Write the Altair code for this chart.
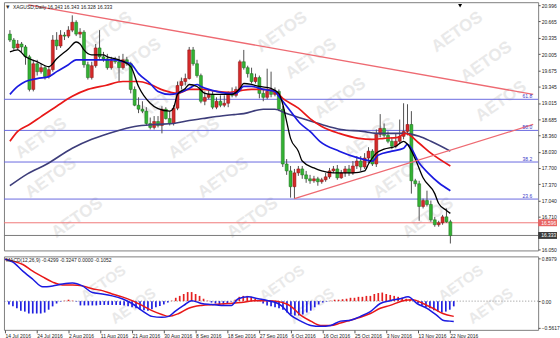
import altair as alt
import pandas as pd

# ---------------- data ----------------
date_labels = ["14 Jul 2016", "24 Jul 2016", "2 Aug 2016", "11 Aug 2016", "21 Aug 2016",
               "30 Aug 2016", "8 Sep 2016", "18 Sep 2016", "27 Sep 2016", "6 Oct 2016",
               "16 Oct 2016", "25 Oct 2016", "3 Nov 2016", "13 Nov 2016", "22 Nov 2016"]
date_label_bars = [0, 8, 16, 24, 32, 40, 48, 56, 64, 72, 80, 88, 96, 104, 112]

opens = [20.41,20.29,20.13,20.21,20.15,19.95,19.29,19.81,19.65,19.73,
         19.55,19.69,20.29,20.17,20.39,20.37,20.49,20.65,20.41,20.45,
         19.79,19.53,19.77,20.13,19.95,19.91,19.73,19.87,19.85,19.73,
         19.89,19.81,19.29,18.97,18.89,18.85,18.60,18.52,18.64,18.56,
         18.89,18.70,18.60,18.91,19.37,19.45,19.51,20.09,19.81,19.57,
         19.05,19.13,19.19,18.93,19.05,18.97,19.01,19.21,19.17,19.29,
         19.85,19.73,19.61,19.45,19.53,19.21,19.13,19.25,19.19,19.25,
         18.89,17.78,17.64,17.32,17.60,17.68,17.56,17.48,17.44,17.48,
         17.42,17.46,17.52,17.64,17.68,17.50,17.60,17.68,17.60,17.74,
         17.84,17.72,17.90,18.04,17.78,18.38,18.50,18.36,18.24,18.14,
         18.24,18.34,18.44,18.58,17.44,17.38,16.92,17.04,16.96,16.65,
         16.55,16.59,16.71,16.61]
highs = [20.49,20.33,20.29,20.25,20.19,19.99,19.89,19.89,19.81,19.77,
         19.75,20.39,20.45,20.49,20.45,20.57,20.79,20.69,20.53,20.49,
         19.85,19.85,20.21,20.49,20.05,20.01,19.95,19.95,19.97,20.01,
         19.95,19.85,19.35,19.13,19.05,18.93,18.72,18.75,18.75,18.95,
         18.93,18.85,18.97,19.45,19.53,19.61,20.15,20.15,19.89,19.61,
         19.25,19.29,19.25,19.13,19.17,19.17,19.25,19.33,19.35,19.89,
         20.09,19.77,19.73,19.61,19.57,19.29,19.71,19.65,19.33,19.29,
         18.95,17.88,17.74,17.68,17.74,17.74,17.64,17.56,17.54,17.52,
         17.50,17.60,17.70,17.74,17.76,17.66,17.74,17.76,17.84,17.94,
         17.94,18.00,18.12,18.08,18.48,18.79,18.60,18.44,18.32,18.40,
         18.68,19.01,18.99,18.85,17.48,17.44,17.08,17.24,17.04,16.71,
         16.63,16.75,16.88,16.65]
lows = [20.25,20.09,20.09,20.05,19.79,19.25,19.25,19.57,19.61,19.49,
        19.51,19.65,20.09,20.13,20.29,20.33,20.45,20.37,20.33,19.73,
        19.49,19.49,19.73,19.91,19.85,19.69,19.69,19.81,19.45,19.69,
        19.77,19.21,18.95,18.81,18.81,18.56,18.48,18.48,18.52,18.40,
        18.68,18.56,18.56,18.87,19.29,19.37,19.49,19.77,19.53,19.01,
        18.97,19.09,18.89,18.89,18.93,18.93,18.93,19.13,19.13,19.25,
        19.69,19.53,19.41,19.41,19.11,19.05,19.09,19.13,19.15,18.85,
        17.72,17.56,17.10,17.08,17.54,17.48,17.40,17.38,17.40,17.34,
        17.38,17.42,17.48,17.60,17.46,17.48,17.52,17.54,17.56,17.68,
        17.64,17.68,17.80,17.74,17.72,18.32,18.32,18.20,18.08,18.10,
        18.20,18.28,18.36,17.18,17.32,16.63,16.88,16.92,16.61,16.51,
        16.51,16.55,16.59,16.17]
closes = [20.29,20.13,20.21,20.15,19.95,19.29,19.81,19.65,19.73,19.55,
          19.69,20.29,20.17,20.39,20.37,20.49,20.65,20.41,20.45,19.79,
          19.53,19.77,20.13,19.95,19.91,19.73,19.87,19.85,19.73,19.89,
          19.81,19.29,18.97,18.89,18.85,18.60,18.52,18.64,18.56,18.89,
          18.70,18.60,18.91,19.37,19.45,19.51,20.09,19.81,19.57,19.05,
          19.13,19.19,18.93,19.05,18.97,19.01,19.21,19.17,19.29,19.85,
          19.73,19.61,19.45,19.53,19.21,19.13,19.25,19.19,19.25,18.89,
          17.78,17.64,17.32,17.60,17.68,17.56,17.48,17.44,17.48,17.42,
          17.46,17.52,17.64,17.68,17.50,17.60,17.68,17.60,17.74,17.84,
          17.72,17.90,18.04,17.78,18.38,18.50,18.36,18.24,18.14,18.24,
          18.34,18.44,18.58,17.44,17.38,16.92,17.04,16.96,16.65,16.55,
          16.59,16.71,16.61,16.33]

# moving averages (bar index, price)
ma_black_bars = [0,2,4,7,10,12,15,17,18,19,21,24,25,28,31,33,36,38,41,42,43,45,46,48,50,52,56,57,59,60,
                 62,64,67,69,70,71,72,74,75,78,80,83,85,88,91,92,94,96,99,101,102,104,106,109,110,112,113]
ma_black_vals = [20.05,20.09,19.95,19.85,19.75,19.91,20.11,20.25,20.21,20.09,19.99,19.99,19.95,19.89,19.75,
                 19.35,19.01,18.90,18.85,18.92,19.19,19.31,19.39,19.35,19.21,19.19,19.19,19.19,19.31,19.41,
                 19.39,19.35,19.31,19.21,18.99,18.64,18.30,18.04,17.84,17.70,17.64,17.60,17.60,17.60,17.64,
                 17.78,18.00,18.08,18.14,18.24,18.18,17.88,17.50,17.18,16.98,16.84,16.78]
ma_blue_bars = [0,2,4,7,10,12,15,17,22,27,29,31,33,36,38,41,43,46,48,49,51,53,56,58,60,62,65,68,69,72,
                74.5,77,79.5,84.5,89.5,93,94.5,98,101,102,105,107.5,110,113]
ma_blue_vals = [19.19,19.35,19.45,19.51,19.55,19.65,19.79,19.89,19.89,19.89,19.85,19.81,19.61,19.41,19.25,
                19.19,19.21,19.31,19.39,19.35,19.29,19.25,19.21,19.21,19.35,19.35,19.29,19.25,19.15,18.85,
                18.60,18.44,18.24,18.04,17.90,17.84,17.96,18.04,18.10,18.18,17.80,17.58,17.40,17.24]
ma_red_bars = [0,2,5,8,12,16,20,24.5,29,33,36,39.5,43,46,49.5,53,56,58,59.5,62,65,68,70,74,77,80,
               84.5,89.5,93,96,99.5,101.5,105,108,113]
ma_red_vals = [18.24,18.44,18.58,18.74,18.95,19.15,19.29,19.37,19.45,19.45,19.39,19.27,19.21,19.29,19.29,
               19.25,19.23,19.25,19.27,19.29,19.29,19.25,19.11,18.91,18.70,18.54,18.40,18.30,18.28,18.30,
               18.32,18.40,18.20,18.00,17.74]
ma_navy_bars = [0,4.5,9.5,16,21,27,32,37,42,46,49.5,53,57.5,60,65,68,71,75,80,85,90.5,94,98,101.5,105,108,113]
ma_navy_vals = [17.34,17.58,17.78,18.10,18.28,18.44,18.54,18.58,18.60,18.66,18.70,18.74,18.78,18.80,18.89,
                18.89,18.80,18.70,18.58,18.48,18.44,18.40,18.40,18.40,18.34,18.24,18.04]

# drawn objects
trend_down_bars = [4.75, 134.25]
trend_down_prices = [21.00, 19.19]
trend_up_bars = [73, 134.25]
trend_up_prices = [17.08, 18.58]
fib_prices = [19.09, 18.46, 17.82, 17.07]
fib_texts = ["61.8", "50.0", "38.2", "23.6"]
red_level = 16.59
red_level_text = "16.596"
last_price = 16.333
last_price_text = "16.333"
price_ticks = [20.996, 20.665, 20.335, 20.005, 19.675, 19.345, 19.015, 18.685,
               18.360, 18.030, 17.700, 17.370, 17.040, 16.710, 16.050]
header_text = "XAGUSD,Daily  16.343 16.343 16.328 16.333"

# MACD panel
macd_bars = [0,2,4.5,7,9.5,12,14.5,17,19.5,22,24.5,27,29.5,32,34.5,37,39.5,41.25,42.75,45,
             47,49.5,52,54.5,57,58.75,61.25,63.75,66.25,68.75,69.5,72,74.5,77,79.5,82,84.5,87,89.5,92,
             94.5,97,99.5,101.5,103.75,106.25,108.75,110.25,112,113]
macd_vals = [0.88,0.82,0.63,0.46,0.30,0.32,0.36,0.38,0.32,0.18,0.15,0.11,0.05,-0.05,-0.20,-0.32,-0.34,-0.32,-0.22,-0.09,
             0.01,-0.05,-0.07,-0.09,-0.09,0.05,0.09,0.05,0.01,-0.05,-0.09,-0.30,-0.42,-0.51,-0.53,-0.51,-0.42,-0.40,-0.32,-0.22,
             -0.05,0.01,0.05,0.09,-0.05,-0.15,-0.30,-0.40,-0.42,-0.43]
signal_bars = [0,2,4.5,7,9.5,12,14.5,17,19.5,22,24.5,27,29.5,32,34.5,37,39.5,41.25,43.75,46.25,
               49.5,52.75,56.25,59.5,62.75,66.25,68.75,72,74.5,77,79.5,82,84.5,87,89.5,92,94.5,97,100.25,102.75,
               105.25,107.75,110.25,113]
signal_vals = [0.88,0.84,0.77,0.63,0.51,0.40,0.34,0.34,0.32,0.26,0.22,0.15,0.09,0.01,-0.09,-0.20,-0.28,-0.32,-0.26,-0.15,
               -0.09,-0.07,-0.05,-0.03,0.01,0.01,-0.01,-0.11,-0.30,-0.42,-0.51,-0.51,-0.46,-0.40,-0.34,-0.26,-0.15,-0.09,0.01,0.03,
               -0.05,-0.15,-0.26,-0.32]
hist_vals = [-0.01,-0.07,-0.11,-0.15,-0.20,-0.22,-0.26,-0.26,-0.26,-0.26,
             -0.24,-0.18,-0.11,-0.05,-0.01,0.01,0.03,0.01,-0.01,-0.09,
             -0.09,-0.09,-0.09,-0.09,-0.08,-0.08,-0.08,-0.08,-0.08,-0.08,
             -0.09,-0.11,-0.13,-0.15,-0.17,-0.19,-0.20,-0.17,-0.13,-0.10,
             -0.07,-0.03,0.01,0.07,0.11,0.15,0.19,0.19,0.15,0.11,
             0.05,0.01,-0.03,-0.05,-0.07,-0.07,-0.05,-0.01,0.03,0.09,
             0.11,0.11,0.09,0.05,-0.01,-0.05,-0.09,-0.11,-0.13,-0.15,
             -0.18,-0.24,-0.28,-0.30,-0.30,-0.28,-0.24,-0.20,-0.13,-0.07,
             -0.03,-0.01,0.01,0.03,0.03,0.04,0.05,0.07,0.07,0.09,
             0.09,0.11,0.11,0.15,0.17,0.18,0.15,0.13,0.11,0.09,
             0.07,0.05,0.03,-0.01,-0.05,-0.09,-0.13,-0.15,-0.19,-0.22,
             -0.24,-0.22,-0.18,-0.11]
macd_ticks = [0.8979, 0.0, -0.5617]
macd_header = "MACD(12,26,9) -0.4299 -0.3247 0.0000 -0.1052"

# watermark placement (bar index / price, and bar index / MACD value), kept inside the panels
wm_main_bars = [24.75, 32.25, 39.75, 47.25, 54.75, 62.25, 69.75, 77.25, 84.75, 92.25, 99.75, 107.25,
                114.75, 122.25, 126.0, 8.0, 10.5, 17.25]
wm_main_prices = [20.45, 19.91, 19.11, 18.30, 17.50, 16.69, 20.45, 19.91, 19.11, 18.30, 17.50, 16.69,
                  20.45, 19.85, 19.05, 18.30, 17.50, 16.69]
wm_macd_bars = [24.75, 69.75, 114.75, 32.25, 77.25, 122.25]
wm_macd_vals = [0.38, 0.38, 0.38, -0.10, -0.10, -0.10]
shift_marker_bar = [115.5]
shift_marker_price = [20.985]

# ---------------- styling ----------------
BULL, BULL_EDGE = "#d42a2a", "#8a1010"
BEAR, BEAR_EDGE = "#33b233", "#1d6e1d"
FONT = "Liberation Sans"
FS = 5
WM_COLOR = "#e9e9e9"

XS = alt.Scale(domain=[-0.25, 134.25], nice=False, zero=False)
YS = alt.Scale(domain=[16.03, 21.056], nice=False, zero=False)
MS = alt.Scale(domain=[-0.6034, 0.9396], nice=False, zero=False)

price_axis = alt.Axis(orient="right", values=price_ticks, format=".3f", title=None, grid=False,
                      domain=False, tickSize=2, tickColor="#555", labelPadding=1, labelFontSize=FS,
                      labelColor="#222", labelFont=FONT, labelOverlap=False, labelBaseline="middle")
macd_axis = alt.Axis(orient="right", values=macd_ticks, title=None, grid=False, domain=False,
                     labelExpr="datum.value == 0 ? '0.00' : format(datum.value, '.4f')",
                     tickSize=2, tickColor="#555", labelPadding=1, labelFontSize=FS, labelColor="#222",
                     labelFont=FONT, labelOverlap=False, labelBaseline="middle")
date_expr = "[" + ",".join("'%s'" % d for d in date_labels) + "][round(datum.value / 8)]"
date_axis = alt.Axis(values=date_label_bars, labelExpr=date_expr, title=None, grid=False, domain=False,
                     tickSize=3, tickColor="#555", labelAlign="left", labelPadding=1, labelFontSize=FS,
                     labelColor="#222", labelFont=FONT, labelOverlap=False)

xm = alt.X("bar:Q", scale=XS, axis=None)


def py(field):
    return alt.Y(field, scale=YS, axis=price_axis)


candles = pd.DataFrame({"bar": list(range(len(closes))), "open": opens, "high": highs,
                        "low": lows, "close": closes})

wm_main = alt.Chart(pd.DataFrame({"bar": wm_main_bars, "price": wm_main_prices, "t": ["AETOS"] * len(wm_main_bars)})
                    ).mark_text(angle=325, fontSize=17, fontWeight="bold", font=FONT, color=WM_COLOR
                                ).encode(x=xm, y=py("price:Q"), text="t:N")

fib_df = pd.DataFrame({"price": fib_prices, "t": fib_texts, "bar": [134.0] * len(fib_prices)})
fib_rules = alt.Chart(fib_df).mark_rule(color="#6a6ae0", strokeWidth=1).encode(y=py("price:Q"))
fib_text = alt.Chart(fib_df).mark_text(align="right", baseline="bottom", dy=-0.5, fontSize=FS, font=FONT,
                                       color="#3a3ac8").encode(x=xm, y=py("price:Q"), text="t:N")

red_line = alt.Chart(pd.DataFrame({"price": [red_level]})).mark_rule(color="#f07878", strokeWidth=1).encode(
    y=py("price:Q"))
last_line = alt.Chart(pd.DataFrame({"price": [last_price]})).mark_rule(color="#7a7a7a", strokeWidth=1).encode(
    y=py("price:Q"))

trend_df = pd.DataFrame({
    "bar": trend_down_bars + trend_up_bars,
    "price": trend_down_prices + trend_up_prices,
    "id": ["down", "down", "up", "up"],
})
trend = alt.Chart(trend_df).mark_line(color="#ee6a72", strokeWidth=1.3, clip=True).encode(
    x=xm, y=py("price:Q"), detail="id:N")


def ma_layer(bars, vals, color, width):
    return alt.Chart(pd.DataFrame({"bar": bars, "price": vals})).mark_line(
        color=color, strokeWidth=width, interpolate="monotone").encode(x=xm, y=py("price:Q"))


ma_navy = ma_layer(ma_navy_bars, ma_navy_vals, "#3d3d7a", 1.6)
ma_red = ma_layer(ma_red_bars, ma_red_vals, "#e81818", 1.7)
ma_blue = ma_layer(ma_blue_bars, ma_blue_vals, "#1a1ae0", 1.7)
ma_black = ma_layer(ma_black_bars, ma_black_vals, "#000000", 1.3)

up = alt.datum.close >= alt.datum.open
wick = alt.Chart(candles).mark_rule(color="#505050", strokeWidth=1).encode(
    x=xm, y=py("low:Q"), y2="high:Q")
body = alt.Chart(candles).mark_bar(width=3, strokeWidth=0.5).encode(
    x=xm, y=py("open:Q"), y2="close:Q",
    color=alt.when(up).then(alt.value(BULL)).otherwise(alt.value(BEAR)),
    stroke=alt.when(up).then(alt.value(BULL_EDGE)).otherwise(alt.value(BEAR_EDGE)))

box_df = pd.DataFrame({"price": [red_level, last_price], "t": [red_level_text, last_price_text],
                       "fill": ["#e86464", "#3c3c3c"]})
boxes = alt.Chart(box_df).transform_calculate(top="datum.price + 0.07", bot="datum.price - 0.07").mark_rect(
).encode(x=alt.value(538), x2=alt.value(557), y=py("top:Q"), y2="bot:Q",
         color=alt.Color("fill:N", scale=None))
box_text = alt.Chart(box_df).mark_text(align="left", baseline="middle", fontSize=FS, font=FONT,
                                       color="white").encode(x=alt.value(541), y=py("price:Q"), text="t:N")

header = alt.Chart(pd.DataFrame({"t": [header_text]})).mark_text(
    align="left", baseline="middle", fontSize=FS, font=FONT, color="#222").encode(
    x=alt.value(9), y=alt.value(5), text="t:N")
header_icon = alt.Chart(pd.DataFrame({"t": ["\u25be"]})).mark_text(
    align="left", baseline="middle", fontSize=7, font="DejaVu Sans", color="#333").encode(
    x=alt.value(2), y=alt.value(5), text="t:N")
shift_marker = alt.Chart(pd.DataFrame({"bar": shift_marker_bar, "price": shift_marker_price})).mark_point(
    shape="triangle-down", filled=True, size=16, color="black", opacity=1).encode(x=xm, y=py("price:Q"))

main = alt.layer(wm_main, fib_rules, red_line, last_line, wick, body, ma_navy, ma_red, ma_blue, ma_black,
                 trend, fib_text, boxes, box_text, header_icon, header, shift_marker
                 ).properties(width=538, height=250)

# ---------------- MACD panel ----------------
xd = alt.X("bar:Q", scale=XS, axis=date_axis)


def my(field):
    return alt.Y(field, scale=MS, axis=macd_axis)


hist_df = pd.DataFrame({"bar": list(range(len(hist_vals))), "v": hist_vals})
wm_macd = alt.Chart(pd.DataFrame({"bar": wm_macd_bars, "v": wm_macd_vals, "t": ["AETOS"] * len(wm_macd_bars)})
                    ).mark_text(angle=325, fontSize=15, fontWeight="bold", font=FONT, color=WM_COLOR
                                ).encode(x=xd, y=my("v:Q"), text="t:N")
zero = alt.Chart(pd.DataFrame({"v": [0.0]})).mark_rule(color="#8c8c8c", strokeDash=[1, 2], strokeWidth=1).encode(
    y=my("v:Q"))
hist = alt.Chart(hist_df).mark_rule(strokeWidth=1.7).encode(
    x=xd, y=my("v:Q"), y2=alt.datum(0),
    color=alt.when(alt.datum.v >= 0).then(alt.value("#e42020")).otherwise(alt.value("#2020e0")))
macd_line = alt.Chart(pd.DataFrame({"bar": macd_bars, "v": macd_vals})).mark_line(
    color="#1a1ae0", strokeWidth=1.5, interpolate="monotone").encode(x=xd, y=my("v:Q"))
signal_line = alt.Chart(pd.DataFrame({"bar": signal_bars, "v": signal_vals})).mark_line(
    color="#e81818", strokeWidth=1.5, interpolate="monotone").encode(x=xd, y=my("v:Q"))
macd_head = alt.Chart(pd.DataFrame({"t": [macd_header]})).mark_text(
    align="left", baseline="middle", fontSize=FS, font=FONT, color="#222").encode(
    x=alt.value(2), y=alt.value(4), text="t:N")

macd = alt.layer(wm_macd, zero, hist, signal_line, macd_line, macd_head).properties(width=538, height=74)

chart = alt.vconcat(main, macd, spacing=2).properties(
    padding={"left": 1, "top": 0, "right": 0, "bottom": 0},
    background="white",
).configure_view(stroke="#7f7f7f", strokeWidth=1)

chart.save("out.html", embed_options={"renderer": "svg", "actions": False})
